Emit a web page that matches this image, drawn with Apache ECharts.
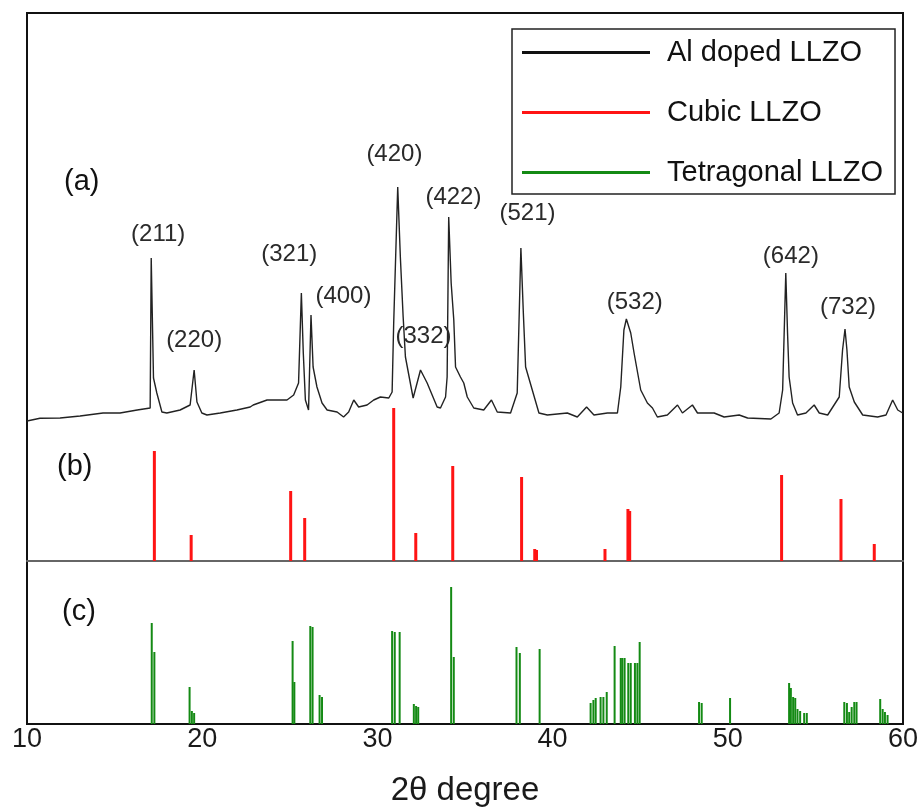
<!DOCTYPE html>
<html>
<head>
    <meta charset="utf-8">
    <title>XRD LLZO</title>
    <script src="https://cdn.jsdelivr.net/npm/echarts@6/dist/echarts.min.js"></script>
    <style>
        body { margin: 0; background: #fff; }
        #chartShow { width: 921px; height: 808px; }
    </style>
</head>
<body>
<div id="chartShow"></div>
<script>
    // (a) measured pattern, Al doped LLZO
    var xrdAngle = [10.00, 10.74, 11.89, 13.03, 14.34, 15.31, 16.29, 17.03, 17.09, 17.22, 17.41, 17.70, 17.98, 18.74, 19.31,
        19.54, 19.70, 19.98, 20.27, 21.03, 21.98, 22.74, 22.91, 23.70, 24.84, 25.22, 25.50, 25.66, 25.77, 25.89,
        26.07, 26.21, 26.33, 26.55, 26.84, 27.13, 27.70, 28.07, 28.36, 28.65, 28.93, 29.41, 29.79, 30.17, 30.65,
        30.84, 30.93, 31.16, 31.31, 31.47, 31.60, 32.04, 32.46, 32.84, 33.41, 33.60, 33.89, 33.98, 34.07, 34.21,
        34.36, 34.46, 34.74, 34.93, 35.13, 35.50, 36.07, 36.51, 36.84, 37.60, 37.98, 38.19, 38.33, 38.46, 38.84,
        39.22, 39.70, 40.84, 41.41, 41.94, 42.36, 43.13, 43.70, 43.89, 44.07, 44.21, 44.46, 44.65, 45.03, 45.41,
        45.70, 45.98, 46.55, 47.13, 47.41, 47.98, 48.27, 49.22, 49.79, 50.65, 51.13, 52.46, 52.93, 53.13, 53.31,
        53.41, 53.50, 53.70, 53.98, 54.46, 54.93, 55.22, 55.70, 56.36, 56.55, 56.69, 56.80, 56.93, 57.22, 57.70,
        58.55, 59.03, 59.41, 59.70, 59.98];
    var xrdIntensity = [2, 4.7, 5, 7, 10, 10, 13, 15, 165, 45, 30, 11, 10, 13, 18,
        53, 21, 10, 8, 10, 13, 16, 18, 23, 23, 28, 40, 130, 70, 23,
        13, 108, 56, 36, 20, 13, 11, 6, 11, 23, 16, 18, 23, 26, 25,
        31, 100, 236, 166, 106, 66, 25, 53, 40, 16, 15, 26, 46, 206, 140,
        103, 56, 46, 40, 26, 15, 13, 23, 11, 10, 30, 175, 110, 56, 33,
        10, 8, 10, 6, 16, 8, 10, 10, 36, 93, 104, 90, 70, 33, 20,
        15, 6, 8, 18, 10, 18, 10, 10, 6, 8, 5, 4, 10, 33, 150,
        90, 46, 20, 8, 10, 18, 10, 8, 26, 73, 94, 73, 36, 21, 8,
        6, 8, 23, 13, 10];

    // peak indexing labels (position in data units of panel a)
    var peakHKL = ['(211)', '(220)', '(321)', '(400)', '(420)', '(332)', '(422)', '(521)', '(532)', '(642)', '(732)'];
    var peakLabelAngle = [17.49, 19.54, 24.97, 28.06, 30.97, 32.63, 34.34, 38.57, 44.69, 53.60, 56.86];
    var peakLabelIntensity = [189, 83, 169, 127, 269, 87, 226, 210, 121, 167, 116];

    // (b) reference cubic LLZO
    var cubicAngle = [17.27, 19.37, 25.05, 25.85, 30.93, 32.19, 34.30, 38.23, 38.98, 39.08, 42.99, 44.30, 44.40, 53.07, 56.46, 58.36];
    var cubicIntensity = [110, 26, 70, 43, 153, 28, 95, 84, 12, 11, 12, 52, 50, 86, 62, 17];

    // (c) reference tetragonal LLZO
    var tetraAngle = [17.12, 17.27, 19.28, 19.41, 19.54, 25.16, 25.26, 26.17, 26.30, 26.70, 26.84, 30.84, 30.99, 31.27,
        32.08, 32.21, 32.33, 34.21, 34.36, 37.94, 38.13, 39.26, 42.17, 42.33, 42.46, 42.74, 42.90, 43.09, 43.54,
        43.89, 43.98, 44.11, 44.32, 44.46, 44.70, 44.84, 44.97, 48.36, 48.51, 50.13, 53.50, 53.60, 53.73, 53.85,
        53.98, 54.13, 54.36, 54.51, 56.65, 56.80, 56.93, 57.07, 57.22, 57.35, 58.70, 58.84, 58.97, 59.12];
    var tetraIntensity = [101, 72, 37, 13, 11, 83, 42, 98, 97, 29, 27, 93, 92, 92,
        20, 18, 17, 137, 67, 77, 71, 75, 21, 24, 26, 27, 27, 32, 78,
        66, 66, 66, 61, 61, 61, 61, 82, 22, 21, 26, 41, 36, 27, 26,
        15, 13, 11, 11, 22, 21, 12, 17, 22, 22, 25, 15, 12, 9];

    var xTicks = ['10', '20', '30', '40', '50', '60'];

    function zip(a, b) {
        var out = [];
        for (var i = 0; i < a.length; i++) out.push([a[i], b[i]]);
        return out;
    }

    var peakData = [];
    for (var i = 0; i < peakHKL.length; i++)
        peakData.push([peakLabelAngle[i], peakLabelIntensity[i], peakHKL[i]]);

    var font = "'Liberation Sans', Arial, sans-serif";

    function xAxisFor(idx) {
        return {
            type: 'value', gridIndex: idx, min: 10, max: 60, interval: 10,
            axisLine: {show: false}, axisTick: {show: false},
            axisLabel: {show: false}, splitLine: {show: false}
        };
    }
    function yAxisFor(idx, max) {
        return {
            type: 'value', gridIndex: idx, min: 0, max: max, show: false,
            splitLine: {show: false}
        };
    }

    var xa = [xAxisFor(0), xAxisFor(1), xAxisFor(2), xAxisFor(3)];
    // separator between (b) and (c)
    xa[1].axisLine = {show: true, onZero: false, lineStyle: {color: '#666', width: 2}};
    // bottom axis with tick labels and name
    xa[2].axisLine = {show: true, onZero: false, lineStyle: {color: '#111', width: 2}};
    xa[2].axisLabel = {
        show: true, fontSize: 27, color: '#1a1a1a', fontFamily: font, margin: 2,
        formatter: function (v) { return xTicks[(v - 10) / 10]; }
    };
    xa[2].name = '2θ degree';
    xa[2].nameLocation = 'middle';
    xa[2].nameGap = 50;
    xa[2].nameTextStyle = {fontSize: 33, color: '#1a1a1a', fontFamily: font};

    var chart = echarts.init(document.getElementById('chartShow'));
    var option = {
        animation: false,
        backgroundColor: '#fff',
        grid: [
            {left: 27, right: 18, top: 13, height: 410},
            {left: 27, right: 18, top: 401, height: 160},
            {left: 27, right: 18, top: 561, height: 163},
            {left: 27, right: 18, top: 13, height: 711, show: true, borderColor: '#111', borderWidth: 2, backgroundColor: 'transparent'}
        ],
        xAxis: xa,
        yAxis: [yAxisFor(0, 410), yAxisFor(1, 160), yAxisFor(2, 163), yAxisFor(3, 100)],
        legend: {
            data: ['Al doped LLZO', 'Cubic LLZO', 'Tetragonal LLZO'],
            orient: 'vertical',
            left: 512, top: 29,
            icon: 'rect',
            itemWidth: 128, itemHeight: 3,
            itemGap: 31,
            padding: [9, 12, 7, 10],
            borderColor: '#222', borderWidth: 1.5,
            selectedMode: false,
            textStyle: {fontSize: 29, color: '#111', fontFamily: font, padding: [0, 0, 0, 12]}
        },
        graphic: [
            {type: 'text', left: 64, top: 167, style: {text: '(a)', fill: '#111', font: '29px ' + font}},
            {type: 'text', left: 57, top: 452, style: {text: '(b)', fill: '#111', font: '29px ' + font}},
            {type: 'text', left: 62, top: 597, style: {text: '(c)', fill: '#111', font: '29px ' + font}}
        ],
        series: [
            {
                name: 'Al doped LLZO',
                type: 'line',
                xAxisIndex: 0, yAxisIndex: 0,
                data: zip(xrdAngle, xrdIntensity),
                showSymbol: false,
                color: '#111',
                lineStyle: {color: '#222', width: 1.4}
            },
            {
                name: 'peaks',
                type: 'scatter',
                xAxisIndex: 0, yAxisIndex: 0,
                data: peakData,
                symbolSize: 0,
                silent: true,
                itemStyle: {opacity: 1},
                label: {
                    show: true, position: 'inside',
                    fontSize: 24, color: '#2a2a2a', fontFamily: font,
                    formatter: function (p) { return p.value[2]; }
                }
            },
            {
                name: 'Cubic LLZO',
                type: 'bar',
                xAxisIndex: 1, yAxisIndex: 1,
                data: zip(cubicAngle, cubicIntensity),
                barWidth: 3,
                color: '#ff1414'
            },
            {
                name: 'Tetragonal LLZO',
                type: 'bar',
                xAxisIndex: 2, yAxisIndex: 2,
                data: zip(tetraAngle, tetraIntensity),
                barWidth: 2,
                color: '#148a14'
            }
        ]
    };
    chart.setOption(option);
</script>
</body>
</html>
